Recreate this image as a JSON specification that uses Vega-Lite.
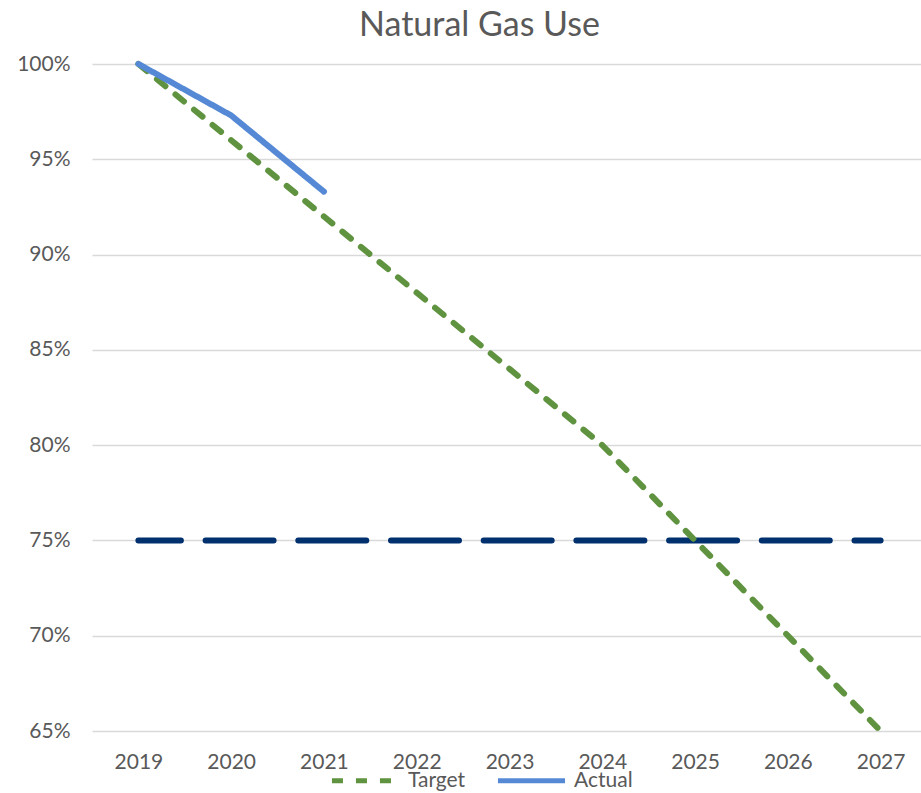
{
  "$schema": "https://vega.github.io/schema/vega-lite/v6.json",
  "width": 835,
  "height": 667,
  "autosize": {"type": "none"},
  "padding": {"left": 92, "top": 64, "right": 0, "bottom": 62},
  "background": "white",
  "config": {"view": {"stroke": null}, "font": "Lato"},
  "title": {"text": "Natural Gas Use", "fontSize": 34, "font": "Lato", "fontWeight": "normal", "color": "#595959", "anchor": "middle", "dx": -30, "offset": 9},
  "layer": [
    {
      "data": {"values": [
        {"year": 2019, "value": 0.75}, {"year": 2020, "value": 0.75}, {"year": 2021, "value": 0.75},
        {"year": 2022, "value": 0.75}, {"year": 2023, "value": 0.75}, {"year": 2024, "value": 0.75},
        {"year": 2025, "value": 0.75}, {"year": 2026, "value": 0.75}, {"year": 2027, "value": 0.75}
      ]},
      "mark": {"type": "line", "strokeWidth": 6, "strokeCap": "round", "color": "#00306e", "strokeDash": [68, 24.7], "strokeDashOffset": 25.5},
      "encoding": {
        "x": {"field": "year", "type": "ordinal"},
        "y": {"field": "value", "type": "quantitative"}
      }
    },
    {
      "data": {"values": [
        {"year": 2019, "series": "Target", "value": 1.0},
        {"year": 2020, "series": "Target", "value": 0.96},
        {"year": 2021, "series": "Target", "value": 0.92},
        {"year": 2022, "series": "Target", "value": 0.88},
        {"year": 2023, "series": "Target", "value": 0.84},
        {"year": 2024, "series": "Target", "value": 0.80},
        {"year": 2025, "series": "Target", "value": 0.75},
        {"year": 2026, "series": "Target", "value": 0.70},
        {"year": 2027, "series": "Target", "value": 0.65},
        {"year": 2019, "series": "Actual", "value": 1.0},
        {"year": 2020, "series": "Actual", "value": 0.973},
        {"year": 2021, "series": "Actual", "value": 0.933}
      ]},
      "mark": {"type": "line", "strokeWidth": 6, "strokeCap": "round"},
      "encoding": {
        "x": {"field": "year", "type": "ordinal", "scale": {"type": "point", "padding": 0.5},
          "axis": {"title": null, "labelAngle": 0, "labelAlign": "center", "domain": false, "ticks": false, "grid": false, "labelFontSize": 21, "labelColor": "#595959", "labelPadding": 31}},
        "y": {"field": "value", "type": "quantitative", "scale": {"domain": [0.65, 1.0], "nice": false, "zero": false},
          "axis": {"title": null, "format": ".0%", "values": [0.65, 0.7, 0.75, 0.8, 0.85, 0.9, 0.95, 1.0], "domain": false, "ticks": false, "labelFontSize": 21, "labelColor": "#595959", "labelPadding": 22, "gridColor": "#d9d9d9", "gridWidth": 1.5}},
        "color": {"field": "series", "type": "nominal", "sort": ["Target", "Actual"],
          "scale": {"domain": ["Target", "Actual"], "range": ["#5f9340", "#5589d6"]},
          "legend": {"orient": "none", "legendX": 237, "legendY": 680, "direction": "horizontal", "title": null, "symbolType": "stroke", "symbolSize": 4500, "symbolStrokeWidth": 5, "labelFontSize": 21, "labelColor": "#595959", "labelFont": "Lato", "columnPadding": 21, "labelOffset": 6, "padding": 0}},
        "strokeDash": {"field": "series", "type": "nominal", "sort": ["Target", "Actual"],
          "scale": {"domain": ["Target", "Actual"], "range": [[11, 13], [1, 0]]}}
      }
    }
  ]
}
